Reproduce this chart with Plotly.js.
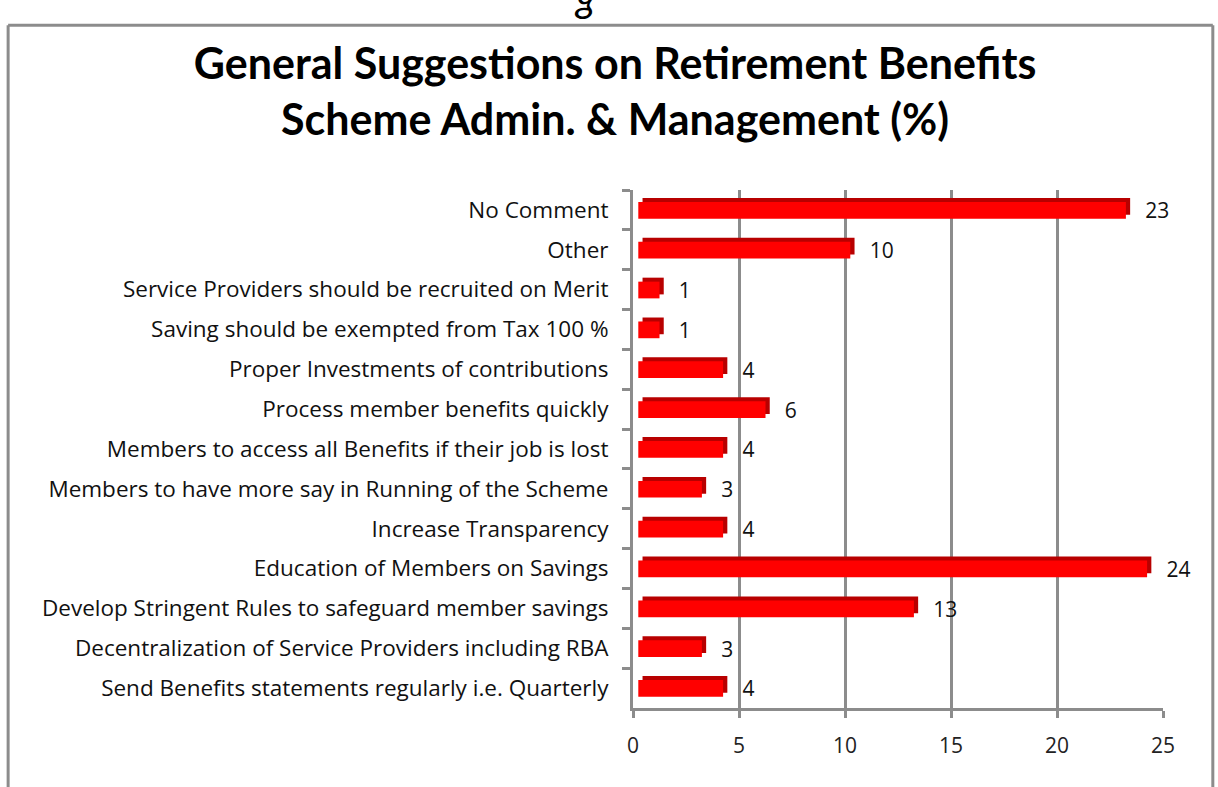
<!DOCTYPE html>
<html>
<head>
<meta charset="utf-8">
<script src="https://cdn.plot.ly/plotly-3.0.1.min.js"></script>
<style>html,body{margin:0;padding:0;background:#fff;}#chart{width:1218px;height:787px;}</style>
</head>
<body>
<div id="chart"></div>
<script>
const categories = [
  "No Comment",
  "Other",
  "Service Providers should be recruited on Merit",
  "Saving should be exempted from Tax 100 %",
  "Proper Investments of contributions",
  "Process member benefits quickly",
  "Members to access all Benefits if their job is lost",
  "Members to have more say in Running of the Scheme",
  "Increase Transparency",
  "Education of Members on Savings",
  "Develop Stringent Rules to safeguard member savings",
  "Decentralization of Service Providers including RBA",
  "Send Benefits statements regularly i.e. Quarterly"
];
const values = [23, 10, 1, 1, 4, 6, 4, 3, 4, 24, 13, 3, 4];
const xTicks = [0, 5, 10, 15, 20, 25];

const shadow = {
  type: 'bar', orientation: 'h', y: categories, x: values,
  base: 0.45, width: 0.42, offset: -0.3,
  marker: {color: '#b80000'}, hoverinfo: 'skip', showlegend: false
};
const front = {
  type: 'bar', orientation: 'h', y: categories, x: values,
  base: 0.25, width: 0.42, offset: -0.2,
  marker: {color: '#ff0000'},
  text: values.map(v => '   ' + v), textposition: 'outside', cliponaxis: false,
  constraintext: 'none',
  textfont: {family: '"Open Sans", sans-serif', size: 21, color: '#111'},
  showlegend: false
};

const layout = {
  width: 1218, height: 787,
  margin: {l: 633, r: 55, t: 190, b: 79},
  paper_bgcolor: '#fff', plot_bgcolor: '#fff',
  barmode: 'overlay',
  title: {
    text: 'General Suggestions on Retirement Benefits<br>Scheme Admin. & Management (%)',
    font: {family: 'Lato, sans-serif', size: 43, color: '#000', weight: 'bold'},
    x: 0.505, xanchor: 'center', y: 0.9, yanchor: 'middle'
  },
  xaxis: {
    range: [0, 25], tickvals: xTicks, ticktext: xTicks.map(String),
    showgrid: true, gridcolor: '#8c8c8c', gridwidth: 3,
    showline: true, linecolor: '#8c8c8c', linewidth: 3,
    ticks: 'outside', ticklen: 7, tickwidth: 3, tickcolor: '#8c8c8c',
    ticklabelstandoff: 10,
    tickfont: {family: '"Open Sans", sans-serif', size: 21, color: '#222'},
    zeroline: false, fixedrange: true
  },
  yaxis: {
    type: 'category', autorange: 'reversed',
    showgrid: false, showline: true, linecolor: '#8c8c8c', linewidth: 3,
    ticks: 'outside', tickson: 'boundaries', ticklen: 8, tickwidth: 3, tickcolor: '#8c8c8c',
    ticklabelstandoff: 17,
    tickfont: {family: '"Open Sans", sans-serif', size: 22.5, color: '#111'},
    fixedrange: true
  },
  annotations: [
    {text: 'g', xref: 'paper', yref: 'paper', x: -0.09, y: 1.372, xanchor: 'center', yanchor: 'middle',
     showarrow: false, font: {family: 'Lato, sans-serif', size: 40, color: '#000', style: 'italic'}}
  ],
  shapes: [
    {type: 'line', xref: 'paper', yref: 'paper', x0: -1.179, x1: -1.179, y0: 1.318, y1: -0.3, line: {color: '#8c8c8c', width: 3}},
    {type: 'line', xref: 'paper', yref: 'paper', x0: -1.179, x1: 1.094, y0: 1.318, y1: 1.318, line: {color: '#8c8c8c', width: 3}},
    {type: 'line', xref: 'paper', yref: 'paper', x0: 1.094, x1: 1.094, y0: 1.318, y1: -0.3, line: {color: '#8c8c8c', width: 3}}
  ]
};

Plotly.newPlot('chart', [shadow, front], layout, {displayModeBar: false, staticPlot: true});
</script>
</body>
</html>
